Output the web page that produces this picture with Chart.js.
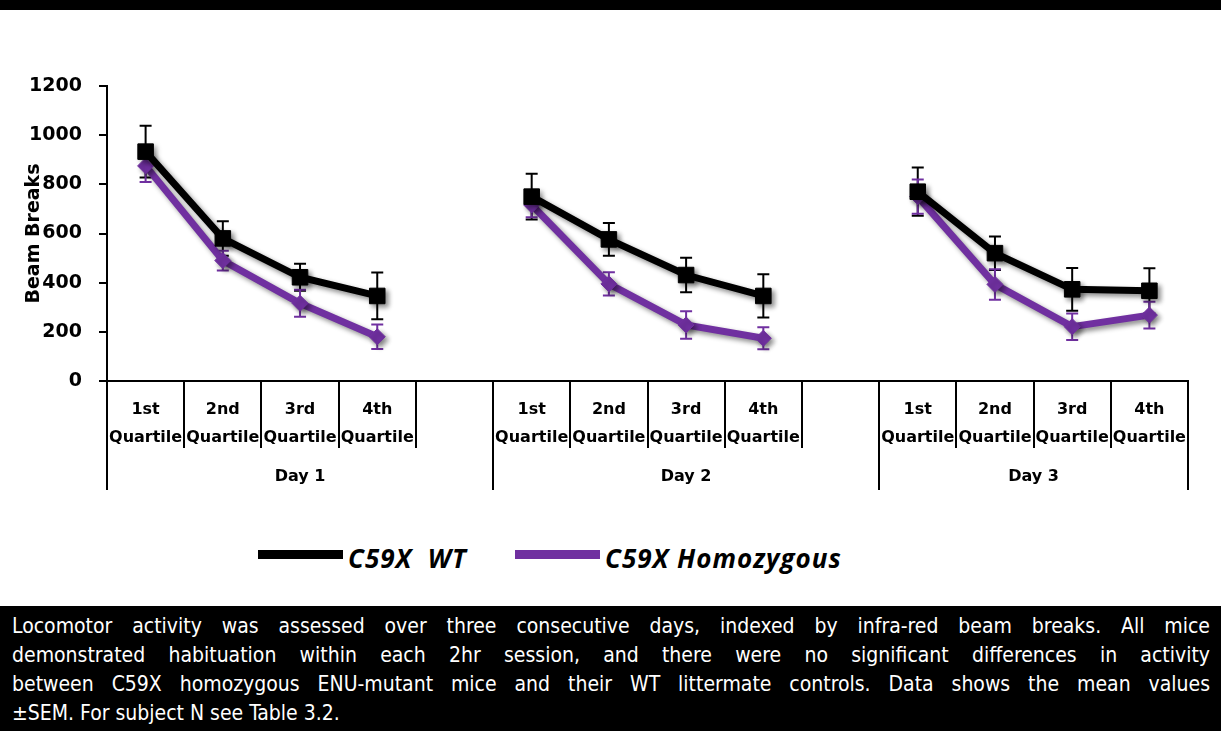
<!DOCTYPE html>
<html><head><meta charset="utf-8">
<script src="https://cdn.jsdelivr.net/npm/chart.js@4.4.1/dist/chart.umd.min.js"></script>
<style>
html,body{margin:0;padding:0;background:#fff;}
body{width:1221px;height:731px;position:relative;overflow:hidden;}
#topband{position:absolute;left:0;top:0;width:1221px;height:10px;background:#000;}
#wrap{position:absolute;left:0;top:0;width:1221px;height:520px;}
#legend{position:absolute;top:543px;left:0;width:1221px;height:30px;font-family:"Open Sans",sans-serif;font-style:italic;font-weight:700;font-size:26px;letter-spacing:1px;color:#000;}
.li{position:absolute;top:0;height:30px;line-height:30px;white-space:nowrap;}
.sw{position:absolute;top:7px;width:85px;height:9px;}
#caption{position:absolute;left:0;top:606px;width:1221px;height:125px;background:#000;color:#fff;font-family:"DejaVu Sans Condensed","Liberation Sans",sans-serif;font-stretch:condensed;font-size:21px;line-height:29px;box-sizing:border-box;padding:6px 11px 0 12px;}
#caption div{white-space:normal;}
.j{text-align:justify;text-align-last:justify;}
</style>
</head><body>
<div id="wrap"><canvas id="c" width="1221" height="520"></canvas></div>
<div id="topband"></div>
<div id="legend">
  <div class="sw" style="left:258px;background:#000;"></div>
  <div class="li" style="left:348px;">C59X&nbsp;&nbsp;WT</div>
  <div class="sw" style="left:515px;background:#7030A0;"></div>
  <div class="li" style="left:605px;">C59X Homozygous</div>
</div>
<div id="caption">
  <div class="j">Locomotor activity was assessed over three consecutive days, indexed by infra-red beam breaks. All mice</div>
  <div class="j">demonstrated habituation within each 2hr session, and there were no significant differences in activity</div>
  <div class="j">between C59X homozygous ENU-mutant mice and their WT littermate controls. Data shows the mean values</div>
  <div>±SEM. For subject N see Table 3.2.</div>
</div>
<script>
const categories = [
  ['1st','Quartile'],['2nd','Quartile'],['3rd','Quartile'],['4th','Quartile'],'',
  ['1st','Quartile'],['2nd','Quartile'],['3rd','Quartile'],['4th','Quartile'],'',
  ['1st','Quartile'],['2nd','Quartile'],['3rd','Quartile'],['4th','Quartile']
];
const dayLabels = ['Day 1','Day 2','Day 3'];
const dayFirst = [0,5,10];
const dayLast = [4,9,13];
const wtMeans = [933,580,422,346,null,750,576,431,346,null,770,520,373,367];
const wtSEM   = [105,70,55,95,null,93,67,70,88,null,98,68,87,92];
const homMeans = [875,490,316,180,null,716,395,228,174,null,750,393,221,268];
const homSEM   = [65,40,55,50,null,50,47,56,45,null,70,62,54,54];
const yMin = 0, yMax = 1200, yStep = 200;
const seriesNames = ['C59X  WT','C59X Homozygous'];
const WT_COLOR = '#000000', HOM_COLOR = '#7030A0';

const errorBars = {
  id:'errorBars',
  beforeDatasetsDraw(chart){
    const ctx = chart.ctx, ys = chart.scales.y;
    chart.data.datasets.forEach((ds, di) => {
      const meta = chart.getDatasetMeta(di);
      ctx.save();
      ctx.strokeStyle = ds.borderColor; ctx.lineWidth = 2;
      ds.data.forEach((v, i) => {
        if (v === null) return;
        const e = ds.sem[i];
        const x = meta.data[i].x;
        const yt = ys.getPixelForValue(v + e), yb = ys.getPixelForValue(v - e);
        ctx.beginPath();
        ctx.moveTo(x, yt); ctx.lineTo(x, yb);
        ctx.moveTo(x-6, yt); ctx.lineTo(x+6, yt);
        ctx.moveTo(x-6, yb); ctx.lineTo(x+6, yb);
        ctx.stroke();
      });
      ctx.restore();
    });
  }
};
const shadow = {
  id:'shadow',
  beforeDatasetDraw(chart){ const c=chart.ctx; c.save(); c.shadowColor='rgba(0,0,0,0.45)'; c.shadowBlur=5; c.shadowOffsetX=3; c.shadowOffsetY=3; },
  afterDatasetDraw(chart){ chart.ctx.restore(); }
};
const decor = {
  id:'decor',
  afterDraw(chart){
    const ctx = chart.ctx, xs = chart.scales.x, ca = chart.chartArea;
    const n = categories.length;
    const half = (xs.getPixelForValue(1) - xs.getPixelForValue(0))/2;
    const bnd = i => i < n ? xs.getPixelForValue(i) - half : xs.getPixelForValue(n-1) + half;
    const base = ca.bottom;
    ctx.save();
    ctx.strokeStyle = '#000'; ctx.lineWidth = 2;
    for (let i = 0; i <= n; i++) {
      const isDay = dayFirst.includes(i) || i === n;
      const x = Math.round(bnd(i));
      ctx.beginPath(); ctx.moveTo(x, base); ctx.lineTo(x, base + (isDay ? 109 : 67)); ctx.stroke();
    }
    ctx.fillStyle = '#000';
    ctx.font = 'bold 16px "DejaVu Sans"';
    ctx.textAlign = 'center'; ctx.textBaseline = 'middle';
    dayLabels.forEach((d, k) => {
      const x0 = bnd(dayFirst[k]), x1 = bnd(dayLast[k] + 1);
      ctx.fillText(d, (x0 + x1)/2, base + 96);
    });
    ctx.translate(34, (ca.top + ca.bottom)/2);
    ctx.rotate(-Math.PI/2);
    ctx.font = 'bold 19px "DejaVu Sans"';
    ctx.fillText('Beam Breaks', 0, 0);
    ctx.restore();
  }
};

new Chart(document.getElementById('c'), {
  type:'line',
  data:{
    labels: categories,
    datasets:[
      {label: seriesNames[0], data: wtMeans, sem: wtSEM, borderColor: WT_COLOR, backgroundColor: WT_COLOR,
       borderWidth: 7, pointStyle:'rect', pointRadius: 11, pointBorderWidth: 1, pointBackgroundColor: WT_COLOR, pointBorderColor: WT_COLOR, tension:0, spanGaps:false},
      {label: seriesNames[1], data: homMeans, sem: homSEM, borderColor: HOM_COLOR, backgroundColor: HOM_COLOR,
       borderWidth: 7, pointStyle:'rectRot', pointRadius: 8, pointBorderWidth: 1, pointBackgroundColor: HOM_COLOR, pointBorderColor: HOM_COLOR, tension:0, spanGaps:false}
    ]
  },
  options:{
    responsive:false, animation:false, devicePixelRatio:1,
    layout:{padding:{top:86,right:33,bottom:0,left:0}},
    plugins:{legend:{display:false}, tooltip:{enabled:false}},
    scales:{
      x:{type:'category', offset:true,
        grid:{display:false, drawTicks:false},
        border:{display:true, color:'#000', width:2},
        ticks:{autoSkip:false, maxRotation:0, minRotation:0, padding:15, color:'#000',
          font:{family:'DejaVu Sans', weight:'bold', size:16, lineHeight:1.75}},
        afterFit(s){ s.height = 139; }
      },
      y:{min:yMin, max:yMax,
        ticks:{stepSize:yStep, padding:17, color:'#000', font:{family:'DejaVu Sans', weight:'bold', size:19},
          callback:(v) => String(v)},
        grid:{display:true, drawOnChartArea:false, drawTicks:true, tickLength:8, color:'#000', lineWidth:2},
        border:{display:true, color:'#000', width:2},
        afterFit(s){ s.width = 107; }
      }
    }
  },
  plugins:[errorBars, shadow, decor]
});
</script>
</body></html>
